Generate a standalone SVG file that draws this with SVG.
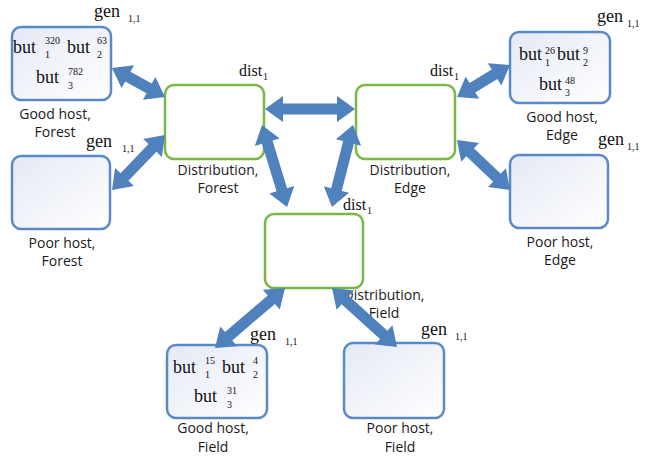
<svg xmlns="http://www.w3.org/2000/svg" width="646" height="462" viewBox="0 0 646 462">
<style>
.host{fill:url(#hg);stroke:#5a8ac6;stroke-width:2.5}
.dist{fill:#ffffff;stroke:#7ab648;stroke-width:2.5}
.arr{fill:#4f81bd}
.lbl{font-family:"Open Sans","Noto Sans",sans-serif;font-size:14px;fill:#1a1a1a;text-anchor:middle}
.m{font-family:"Liberation Serif","Times New Roman",serif;font-size:18px;fill:#111}
.d{font-family:"Liberation Serif","Times New Roman",serif;font-size:16px;fill:#111}
.s{font-family:"Liberation Serif","Times New Roman",serif;font-size:10px;fill:#111}
</style>
<defs>
<linearGradient id="hg" x1="0" y1="0" x2="1" y2="1">
<stop offset="0" stop-color="#e4e9f4"/>
<stop offset="1" stop-color="#ffffff"/>
</linearGradient>
</defs>
<rect width="646" height="462" fill="#ffffff"/>

<g id="good-host-forest">
<rect class="host" x="12" y="27" width="99" height="73" rx="9"/>
<text class="m" x="13" y="53">but</text><text class="s" x="45" y="44">320</text><text class="s" x="45" y="58">1</text>
<text class="m" x="67" y="53">but</text><text class="s" x="97" y="44">63</text><text class="s" x="97" y="58">2</text>
<text class="m" x="36" y="83">but</text><text class="s" x="68" y="75">782</text><text class="s" x="68" y="89">3</text>
<text class="lbl" x="55" y="119">Good host,</text><text class="lbl" x="55" y="137">Forest</text>
<text class="m" x="94" y="17">gen</text><text class="s" x="128" y="22">1,1</text>
</g>

<g id="poor-host-forest">
<rect class="host" x="12" y="156" width="98" height="73" rx="9"/>
<text class="lbl" x="62" y="248">Poor host,</text><text class="lbl" x="62" y="266">Forest</text>
<text class="m" x="86" y="147">gen</text><text class="s" x="122" y="152">1,1</text>
</g>

<g id="good-host-edge">
<rect class="host" x="510" y="32" width="100" height="71" rx="9"/>
<text class="m" x="519" y="60">but</text><text class="s" x="545" y="54">26</text><text class="s" x="545" y="66">1</text>
<text class="m" x="557" y="60">but</text><text class="s" x="583" y="54">9</text><text class="s" x="583" y="66">2</text>
<text class="m" x="539" y="90">but</text><text class="s" x="565" y="84">48</text><text class="s" x="565" y="96">3</text>
<text class="lbl" x="562" y="122">Good host,</text><text class="lbl" x="562" y="140">Edge</text>
<text class="m" x="597" y="22">gen</text><text class="s" x="627" y="27">1,1</text>
</g>

<g id="poor-host-edge">
<rect class="host" x="510" y="155" width="98" height="73" rx="9"/>
<text class="lbl" x="560" y="247">Poor host,</text><text class="lbl" x="560" y="265">Edge</text>
<text class="m" x="598" y="145">gen</text><text class="s" x="627" y="150">1,1</text>
</g>

<g id="good-host-field">
<rect class="host" x="167" y="345" width="100" height="73" rx="9"/>
<text class="m" x="173" y="373">but</text><text class="s" x="205" y="364">15</text><text class="s" x="205" y="378">1</text>
<text class="m" x="222" y="373">but</text><text class="s" x="253" y="364">4</text><text class="s" x="253" y="378">2</text>
<text class="m" x="194" y="402">but</text><text class="s" x="227" y="394">31</text><text class="s" x="227" y="408">3</text>
<text class="lbl" x="213" y="433">Good host,</text><text class="lbl" x="213" y="452">Field</text>
<text class="m" x="250" y="340">gen</text><text class="s" x="285" y="345">1,1</text>
</g>

<g id="poor-host-field">
<rect class="host" x="344" y="343" width="100" height="75" rx="9"/>
<text class="lbl" x="400" y="433">Poor host,</text><text class="lbl" x="400" y="452">Field</text>
<text class="m" x="421" y="335">gen</text><text class="s" x="455" y="340">1,1</text>
</g>

<g id="dist-forest">
<rect class="dist" x="165" y="85" width="99" height="74" rx="9"/>
<text class="lbl" x="218" y="175">Distribution,</text><text class="lbl" x="218" y="193">Forest</text>
<text class="d" x="239" y="76">dist</text><text class="s" x="263" y="80">1</text>
</g>

<g id="dist-edge">
<rect class="dist" x="356" y="85" width="99" height="74" rx="9"/>
<text class="lbl" x="410" y="175">Distribution,</text><text class="lbl" x="410" y="193">Edge</text>
<text class="d" x="430" y="76">dist</text><text class="s" x="454" y="80">1</text>
</g>

<g id="dist-field">
<rect class="dist" x="265" y="214" width="98" height="74" rx="9"/>
<text class="lbl" x="384" y="300">Distribution,</text><text class="lbl" x="384" y="318">Field</text>
<text class="d" x="343" y="210">dist</text><text class="s" x="367" y="214">1</text>
</g>

<g id="connectors">
<path class="arr" transform="translate(112,68) rotate(28.7)" d="M0,0 L18,-13 L18,-5.5 L42.4,-5.5 L42.4,-13 L60.4,0 L42.4,13 L42.4,5.5 L18,5.5 L18,13 Z"/>
<path class="arr" transform="translate(112,190) rotate(-46.1)" d="M0,0 L18,-13 L18,-5.5 L58.4,-5.5 L58.4,-13 L76.4,0 L58.4,13 L58.4,5.5 L18,5.5 L18,13 Z"/>
<path class="arr" transform="translate(265,109)" d="M0,0 L18,-13 L18,-5.5 L72,-5.5 L72,-13 L90,0 L72,13 L72,5.5 L18,5.5 L18,13 Z"/>
<path class="arr" transform="translate(262,125) rotate(73)" d="M0,0 L18,-13 L18,-5.5 L67.7,-5.5 L67.7,-13 L85.7,0 L67.7,13 L67.7,5.5 L18,5.5 L18,13 Z"/>
<path class="arr" transform="translate(353,125) rotate(104.4)" d="M0,0 L18,-13 L18,-5.5 L66.6,-5.5 L66.6,-13 L84.6,0 L66.6,13 L66.6,5.5 L18,5.5 L18,13 Z"/>
<path class="arr" transform="translate(457,97) rotate(-31.1)" d="M0,0 L18,-13 L18,-5.5 L43.9,-5.5 L43.9,-13 L61.9,0 L43.9,13 L43.9,5.5 L18,5.5 L18,13 Z"/>
<path class="arr" transform="translate(457,140) rotate(43.3)" d="M0,0 L18,-13 L18,-5.5 L54.9,-5.5 L54.9,-13 L72.9,0 L54.9,13 L54.9,5.5 L18,5.5 L18,13 Z"/>
<path class="arr" transform="translate(285,288) rotate(139.4)" d="M0,0 L18,-13 L18,-5.5 L74.2,-5.5 L74.2,-13 L92.2,0 L74.2,13 L74.2,5.5 L18,5.5 L18,13 Z"/>
<path class="arr" transform="translate(332,288) rotate(42.2)" d="M0,0 L18,-13 L18,-5.5 L69.8,-5.5 L69.8,-13 L87.8,0 L69.8,13 L69.8,5.5 L18,5.5 L18,13 Z"/>
</g>
</svg>
